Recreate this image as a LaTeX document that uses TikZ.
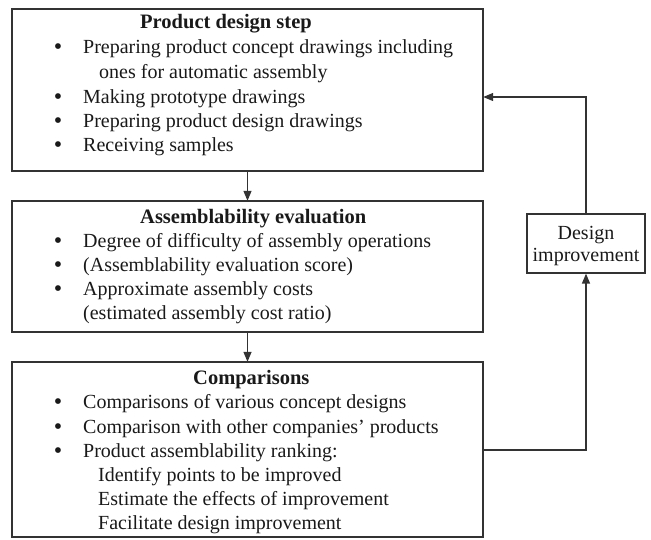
\documentclass[tikz,border=0pt]{standalone}
\usepackage{fontspec}
\setmainfont{Liberation Serif}
\usetikzlibrary{arrows.meta}
\newcommand{\mybul}{{\fontsize{24}{24}\selectfont\textbullet}}
\begin{document}
\begin{tikzpicture}[x=1pt,y=-1pt,
  box/.style={draw=black!80,line width=1.2pt,inner sep=0pt},
  txt/.style={anchor=base west,inner sep=0pt,font=\fontsize{20}{24}\selectfont,text=black!90},
  bul/.style={anchor=base,inner sep=0pt,text=black!90},
  ttl/.style={txt,font=\fontsize{20.5}{24}\selectfont\bfseries},
  ctr/.style={anchor=base,inner sep=0pt,font=\fontsize{20}{24}\selectfont,text=black!90},
  conn/.style={draw=black!80,line width=1.3pt,-{Triangle[length=10pt,width=8pt]}}]
\useasboundingbox (0,0) rectangle (651,539);
% boxes
\draw[box] (12,9) rectangle (483,171);
\node (b1) at (247.5,90) [minimum width=471pt,minimum height=162pt,inner sep=0pt] {};
\draw[box] (12,201) rectangle (483,332);
\node (b2) at (247.5,266.5) [minimum width=471pt,minimum height=131pt,inner sep=0pt] {};
\draw[box] (12,362) rectangle (483,537);
\node (b3) at (247.5,449.5) [minimum width=471pt,minimum height=175pt,inner sep=0pt] {};
\node[box,minimum width=118pt,minimum height=59pt] (di) at (586,243.5) {};
% box 1 text
\node[ttl] (t1) at (140,28) {Product design step};
\node[bul] (b1a) at (58,54) {\mybul};
\node[txt] (l1a) at (83,53) {Preparing product concept drawings including};
\node[txt] (l1b) at (99,78) {ones for automatic assembly};
\node[bul] (b1c) at (58,104) {\mybul};
\node[txt] (l1c) at (83,103) {Making prototype drawings};
\node[bul] (b1d) at (58,128) {\mybul};
\node[txt] (l1d) at (83,127) {Preparing product design drawings};
\node[bul] (b1e) at (58,152) {\mybul};
\node[txt] (l1e) at (83,151) {Receiving samples};
% box 2 text
\node[ttl] (t2) at (140,223) {Assemblability evaluation};
\node[bul] (b2a) at (58,248) {\mybul};
\node[txt] (l2a) at (83,247) {Degree of difficulty of assembly operations};
\node[bul] (b2b) at (58,272) {\mybul};
\node[txt] (l2b) at (83,271) {(Assemblability evaluation score)};
\node[bul] (b2c) at (58,296) {\mybul};
\node[txt] (l2c) at (83,295) {Approximate assembly costs};
\node[txt] (l2d) at (83,319) {(estimated assembly cost ratio)};
% box 3 text
\node[ttl] (t3) at (193,384) {Comparisons};
\node[bul] (b3a) at (58,409) {\mybul};
\node[txt] (l3a) at (83,408) {Comparisons of various concept designs};
\node[bul] (b3b) at (58,434) {\mybul};
\node[txt] (l3b) at (83,433) {Comparison with other companies’ products};
\node[bul] (b3c) at (58,458) {\mybul};
\node[txt] (l3c) at (83,457) {Product assemblability ranking:};
\node[txt] (l3d) at (98,481) {Identify points to be improved};
\node[txt] (l3e) at (98,505) {Estimate the effects of improvement};
\node[txt] (l3f) at (98,529) {Facilitate design improvement};
% design improvement text
\node[ctr] (d1) at (586,239) {Design};
\node[ctr] (d2) at (586,261) {improvement};
% connectors
\coordinate (c1) at (586,450);
\coordinate (c2) at (586,97);
\draw[conn] (b1.south) -- (b2.north);
\draw[conn] (b2.south) -- (b3.north);
\draw[conn] (b3.east |- c1) -- (c1) -- (di.south);
\draw[conn] (di.north) -- (c2) -- (b1.east |- c2);
\end{tikzpicture}
\end{document}
